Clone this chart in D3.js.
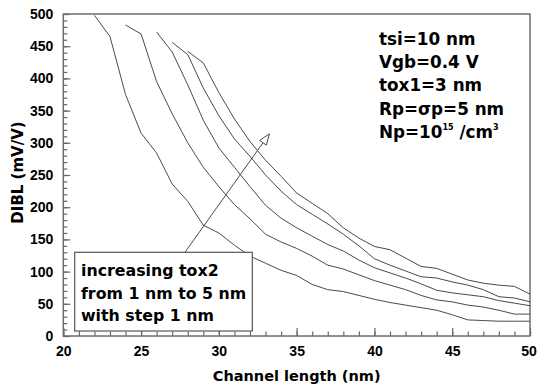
<!DOCTYPE html>
<html>
<head>
<meta charset="utf-8">
<script src="https://cdn.jsdelivr.net/npm/d3@7"></script>
<style>
  body { margin: 0; background: #fff; }
</style>
</head>
<body>
<div id="plot"></div>
<script>
// channel length (nm) and DIBL (mV/V) for tox2 = 1..5 nm
const channelLength = [22, 23, 24, 25, 26, 27, 28, 29, 30, 31, 32, 33, 34, 35, 36,
  37, 38, 39, 40, 41, 42, 43, 44, 45, 46, 47, 48, 49, 50];

const tox2_1nm = [498, 465, 375, 315, 284, 236, 209, 172, 160, 141, 124, 113, 102, 94, 80,
  72, 69, 63, 57, 52, 48, 44, 40, 33, 25, 24, 23, 23, 23];
const tox2_2nm = [null, null, 483, 469, 395, 345, 300, 262, 232, 204, 182, 158, 146, 136, 124,
  110, 104, 95, 86, 79, 72, 63, 56, 53, 48, 45, 40, 34, 34];
const tox2_3nm = [null, null, null, null, 472, 441, 390, 335, 292, 262, 232, 203, 183, 168, 155,
  142, 132, 118, 106, 98, 90, 81, 71, 67, 64, 61, 55, 51, 47];
const tox2_4nm = [null, null, null, null, null, 456, 437, 385, 342, 306, 279, 250, 225, 204, 189,
  174, 158, 140, 120, 110, 101, 92, 90, 84, 79, 72, 61, 59, 53];
const tox2_5nm = [null, null, null, null, null, null, 442, 424, 378, 337, 302, 273, 248, 222, 206,
  190, 168, 152, 139, 134, 121, 108, 105, 96, 87, 82, 79, 77, 65];

const xTicks = [20, 25, 30, 35, 40, 45, 50];
const yTicks = [0, 50, 100, 150, 200, 250, 300, 350, 400, 450, 500];

const params = ["tsi=10 nm", "Vgb=0.4 V", "tox1=3 nm", "Rp=\u03c3p=5 nm"];
const noteLines = ["increasing tox2", "from 1 nm to 5 nm", "with step 1 nm"];

const wideFont = "DejaVu Sans, sans-serif";
const tickFont = "Liberation Sans, Arial, sans-serif";

const w = 537;
const h = 391;
const margin = {top: 14, right: 7, bottom: 55, left: 63.3};
const innerWidth = w - margin.left - margin.right;
const innerHeight = h - margin.top - margin.bottom;

const svg = d3.select("div#plot")
    .append("svg")
    .attr("width", w)
    .attr("height", h);

const x = d3.scaleLinear().domain([20, 50]).range([0, innerWidth]);
const y = d3.scaleLinear().domain([0, 500]).range([innerHeight, 0]);

const g = svg.append("g")
    .attr("transform", `translate(${margin.left},${margin.top})`);

// minor ticks (no labels)
g.append("g")
    .attr("transform", `translate(0,${innerHeight})`)
    .call(d3.axisBottom(x).tickValues(d3.range(20, 51, 1)).tickSize(-4.5))
    .call(a => a.select(".domain").remove())
    .call(a => a.selectAll("text").remove());
g.append("g")
    .call(d3.axisLeft(y).tickValues(d3.range(0, 501, 10)).tickSize(-4))
    .call(a => a.select(".domain").remove())
    .call(a => a.selectAll("text").remove());

// major ticks + labels
const xAxis = g.append("g")
    .attr("transform", `translate(0,${innerHeight})`)
    .call(d3.axisBottom(x).tickValues(xTicks).tickSize(-8).tickPadding(10));
const yAxis = g.append("g")
    .call(d3.axisLeft(y).tickValues(yTicks).tickSize(-7).tickPadding(10));

[xAxis, yAxis].forEach(a => {
  a.select(".domain").remove();
  a.attr("font-family", tickFont).attr("font-size", 14).attr("font-weight", "bold");
  a.selectAll("text").attr("fill", "#000");
});
xAxis.selectAll("text").filter(d => d === 50).attr("dx", -1.5);
g.selectAll(".tick line").attr("stroke", "#666").attr("stroke-width", 1.2);

// frame
g.append("rect")
    .attr("width", innerWidth)
    .attr("height", innerHeight)
    .attr("fill", "none")
    .attr("stroke", "#6e6e6e")
    .attr("stroke-width", 1.5);

// curves
const series = [tox2_1nm, tox2_2nm, tox2_3nm, tox2_4nm, tox2_5nm];
const line = d3.line()
    .defined(d => d[1] != null)
    .x(d => x(d[0]))
    .y(d => y(d[1]));

g.selectAll("path.curve")
  .data(series)
  .enter().append("path")
    .attr("class", "curve")
    .attr("d", s => line(channelLength.map((c, i) => [c, s[i]])))
    .attr("fill", "none")
    .attr("stroke", "#4a4a4a")
    .attr("stroke-width", 1);

// arrow
const arrowFrom = [27.82, 130];
const arrowTo = [33.25, 314];
const x0 = x(arrowFrom[0]), y0 = y(arrowFrom[1]);
const x1 = x(arrowTo[0]), y1 = y(arrowTo[1]);
const ang = Math.atan2(y1 - y0, x1 - x0);
const headLen = 11, headHalf = 4;
const bx = x1 - headLen * Math.cos(ang), by = y1 - headLen * Math.sin(ang);
g.append("line")
    .attr("x1", x0).attr("y1", y0).attr("x2", bx).attr("y2", by)
    .attr("stroke", "#4a4a4a").attr("stroke-width", 1);
g.append("path")
    .attr("d", `M${x1},${y1}L${bx - headHalf * Math.sin(ang)},${by + headHalf * Math.cos(ang)}` +
      `L${bx + headHalf * Math.sin(ang)},${by - headHalf * Math.cos(ang)}Z`)
    .attr("fill", "#fff").attr("stroke", "#4a4a4a").attr("stroke-width", 1);

// note box
svg.append("rect")
    .attr("x", 74.7).attr("y", 252.3)
    .attr("width", 177.6).attr("height", 78.7)
    .attr("fill", "#fff")
    .attr("stroke", "#555")
    .attr("stroke-width", 1.2);

svg.selectAll("text.note")
  .data(noteLines)
  .enter().append("text")
    .attr("class", "note")
    .attr("x", 81)
    .attr("y", (d, i) => 276 + i * 22.5)
    .attr("font-family", wideFont)
    .attr("font-weight", "bold")
    .attr("font-size", 15.8)
    .text(d => d);

// parameters
svg.selectAll("text.param")
  .data(params)
  .enter().append("text")
    .attr("class", "param")
    .attr("x", 379)
    .attr("y", (d, i) => 45 + i * 23.2)
    .attr("font-family", wideFont)
    .attr("font-weight", "bold")
    .attr("font-size", 16.8)
    .text(d => d);

const np = svg.append("text")
    .attr("x", 379)
    .attr("y", 45 + 4 * 23.2)
    .attr("font-family", wideFont)
    .attr("font-weight", "bold")
    .attr("font-size", 16.8);
np.append("tspan").text("Np=10");
np.append("tspan").attr("font-size", 8).attr("dy", -8).text("15");
np.append("tspan").attr("dy", 8).text(" /cm");
np.append("tspan").attr("font-size", 8).attr("dy", -8).text("3");

// axis titles
svg.append("text")
    .attr("x", margin.left + innerWidth / 2)
    .attr("y", 381)
    .attr("text-anchor", "middle")
    .attr("font-family", wideFont)
    .attr("font-weight", "bold")
    .attr("font-size", 14.5)
    .text("Channel length (nm)");

svg.append("text")
    .attr("transform", `translate(23,172.5) rotate(-90)`)
    .attr("text-anchor", "middle")
    .attr("font-family", wideFont)
    .attr("font-weight", "bold")
    .attr("font-size", 15)
    .text("DIBL (mV/V)");
</script>
</body>
</html>
